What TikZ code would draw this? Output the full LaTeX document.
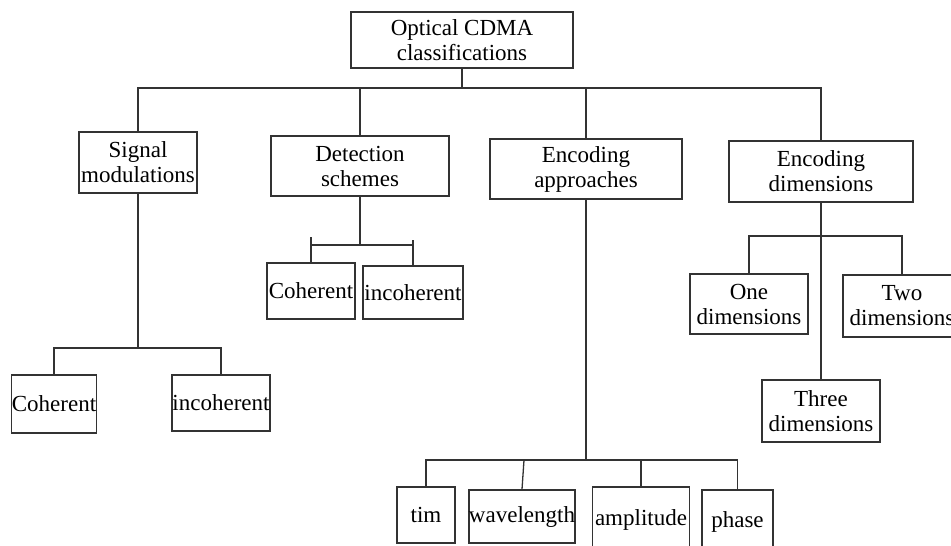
\documentclass[tikz,border=0pt]{standalone}
\usepackage{fontspec}
\setmainfont{Liberation Serif}
\usepackage{tikz}

\begin{document}
\begin{tikzpicture}[x=1pt,y=-1pt,
    box/.style={draw=black!80,line width=1.3pt,inner sep=0pt,align=center,
      font=\fontsize{23}{25}\selectfont},
    link/.style={draw=black!80,line width=1.3pt}]
    \useasboundingbox (0,0) rectangle (951,546);

    \node[box,minimum width=222pt,minimum height=56pt] (root) at (462,40) {Optical CDMA\\ classifications};

    \node[box,minimum width=118pt,minimum height=61pt] (sig) at (138,162.5) {Signal\\ modulations};
    \node[box,minimum width=178pt,minimum height=60pt] (det) at (360,166) {Detection\\ schemes};
    \node[box,minimum width=192pt,minimum height=60pt] (enc) at (586,169) {Encoding\\ approaches};
    \node[box,minimum width=184pt,minimum height=61pt] (dim) at (821,171.5) {Encoding\\ dimensions};

    \node[box,minimum width=84pt,minimum height=58pt] (sigco) at (54,404) {Coherent};
    \node[box,minimum width=98pt,minimum height=56pt] (sigin) at (221,403) {incoherent};

    \node[box,minimum width=88pt,minimum height=56pt] (detco) at (311,291) {Coherent};
    \node[box,minimum width=100pt,minimum height=53pt] (detin) at (413,292.5) {incoherent};

    \node[box,minimum width=58pt,minimum height=56pt] (tim) at (426,515) {tim};
    \node[box,minimum width=104pt,minimum height=53pt] (wav) at (522,516.5) {wavelength};
    \node[box,minimum width=97pt,minimum height=66pt] (amp) at (641,520) {amplitude};
    \node[box,minimum width=71pt,minimum height=63pt] (pha) at (737.5,521.5) {phase};

    \node[box,minimum width=118pt,minimum height=60pt] (one) at (749,304) {One\\ dimensions};
    \node[box,minimum width=118pt,minimum height=62pt] (two) at (902,306) {Two\\ dimensions};
    \node[box,minimum width=118pt,minimum height=62pt] (three) at (821,411) {Three\\ dimensions};

    % bus levels
    \coordinate (topbus) at (462,88);
    \coordinate (sigbus) at (138,348);
    \coordinate (detbus) at (360,245);
    \coordinate (encbus) at (586,460);
    \coordinate (dimbus) at (821,236);

    \path[link] (root.south) -- (topbus);
    \path[link] (sig.north) |- (topbus) -| (dim.north);
    \path[link] (det.north) -- (det.north |- topbus);
    \path[link] (enc.north) -- (enc.north |- topbus);

    \path[link] (sig.south) -- (sigbus);
    \path[link] (sigco.north) |- (sigbus) -| (sigin.north);

    \path[link] (det.south) -- (detbus);
    \path[link] (detco.north |- detbus) -- (detin.north |- detbus);
    \path[link] (detco.north) -- ++(0,-25);
    \path[link] (detin.north) -- ++(0,-25);

    \path[link] (enc.south) -- (encbus);
    \path[link] (tim.north) |- (encbus) -| (pha.north);
    \path[link] (wav.north) -- ([xshift=2pt]wav.north |- encbus);
    \path[link] (amp.north) -- (amp.north |- encbus);

    \path[link] (dim.south) -- (three.north);
    \path[link] (one.north) |- (dimbus) -| (two.north);
\end{tikzpicture}
\end{document}
